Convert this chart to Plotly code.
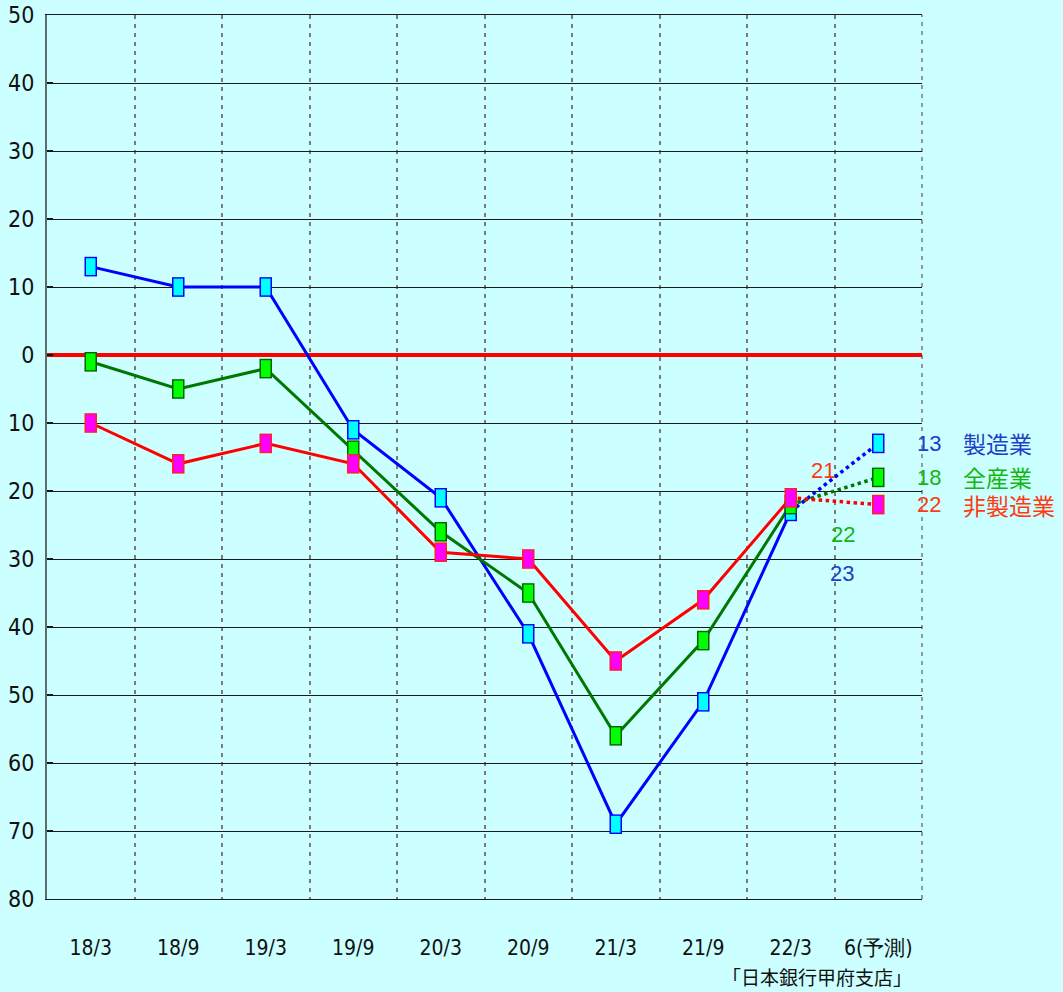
import plotly.graph_objects as go

categories = ["18/3", "18/9", "19/3", "19/9", "20/3", "20/9", "21/3", "21/9", "22/3", "6(予測)"]
manufacturing = [13, 10, 10, -11, -21, -41, -69, -51, -23, -13]
all_industries = [-1, -5, -2, -14, -26, -35, -56, -42, -22, -18]
non_manufacturing = [-10, -16, -13, -16, -29, -30, -45, -36, -21, -22]
y_tick_values = [50, 40, 30, 20, 10, 0, -10, -20, -30, -40, -50, -60, -70, -80]
y_tick_text = ["50", "40", "30", "20", "10", "0", "10", "20", "30", "40", "50", "60", "70", "80"]
series_names = ["製造業", "全産業", "非製造業"]
source_text = "「日本銀行甲府支店」"

xs = list(range(len(categories)))
NARROW = "DejaVu Sans Condensed, Liberation Sans Narrow, Arial Narrow, sans-serif"
JP = "Noto Sans CJK JP, sans-serif"
NUM = "Liberation Sans, Arial, sans-serif"

series = [
    (manufacturing, "#0000FF", "#00FFFF", "#0000FF", "#1E40C8"),
    (all_industries, "#007800", "#00FF00", "#006400", "#10B810"),
    (non_manufacturing, "#FF0000", "#FF00FF", "#FF2020", "#FF3A10"),
]

fig = go.Figure()

for (vals, lc, fc, bc, tc), name in zip(series, series_names):
    fig.add_trace(go.Scatter(x=xs[:-1], y=vals[:-1], mode="lines",
                             line=dict(color=lc, width=3), showlegend=False, hoverinfo="skip"))
    fig.add_trace(go.Scatter(x=xs[-2:], y=vals[-2:], mode="lines",
                             line=dict(color=lc, width=3.5, dash="dot"), showlegend=False, hoverinfo="skip"))

for (vals, lc, fc, bc, tc), name in zip(series, series_names):
    fig.add_trace(go.Scatter(x=xs, y=vals, mode="markers",
                             marker=dict(symbol="line-ns", size=14, color=bc,
                                         line=dict(color=bc, width=12.5)),
                             showlegend=False, hoverinfo="skip"))
    fig.add_trace(go.Scatter(x=xs, y=vals, mode="markers",
                             marker=dict(symbol="line-ns", size=12, color=fc,
                                         line=dict(color=fc, width=9.5)),
                             name=name, showlegend=False))

ann = []
last = len(categories) - 2
shifts = [(51, -62), (52, -30), (32, 27)]
for (vals, lc, fc, bc, tc), (dx, dy) in zip(series, shifts):
    ann.append(dict(x=xs[last], y=vals[last], xref="x", yref="y", text=str(-vals[last]),
                    showarrow=False, xshift=dx, yshift=dy,
                    font=dict(family=NUM, size=22, color=tc)))
for (vals, lc, fc, bc, tc), name in zip(series, series_names):
    ann.append(dict(x=xs[-1], y=vals[-1], xref="x", yref="y", text=str(-vals[-1]),
                    showarrow=False, xshift=51, yshift=0,
                    font=dict(family=NUM, size=22, color=tc)))
    ann.append(dict(x=xs[-1], y=vals[-1], xref="x", yref="y", text=name,
                    showarrow=False, xshift=83, xanchor="left", yshift=0,
                    font=dict(family=JP, size=23, color=tc)))
ann.append(dict(x=0.88, y=-0.088, xref="paper", yref="paper", text=source_text,
                showarrow=False, xanchor="center", yanchor="middle",
                font=dict(family=JP, size=19, color="#111111")))

fig.update_layout(
    width=1063, height=992,
    margin=dict(l=47, r=141, t=15, b=93),
    paper_bgcolor="#CCFFFF", plot_bgcolor="#CCFFFF",
    showlegend=False,
    annotations=ann,
    shapes=[dict(type="line", xref="paper", yref="paper", x0=1, x1=1, y0=0, y1=1,
                 line=dict(color="#7A7A7A", width=1.5, dash="4px,5px"), layer="below")],
    xaxis=dict(
        range=[-0.5, len(categories) - 0.5],
        tickmode="array", tickvals=xs, ticktext=categories,
        showgrid=False, zeroline=False, ticks="",
        showline=True, mirror=True, linecolor="#1A1A1A", linewidth=1,
        tickfont=dict(family=NARROW, size=21, color="#111111"),
        ticklabelstandoff=30, automargin=False,
        minor=dict(tickmode="array", tickvals=[x + 0.5 for x in xs[:-1]],
                   showgrid=True, gridcolor="#7A7A7A", gridwidth=1.5, griddash="4px,5px", ticks=""),
    ),
    yaxis=dict(
        range=[-80, 50],
        tickmode="array", tickvals=y_tick_values, ticktext=y_tick_text,
        showgrid=True, gridcolor="#1A1A1A", gridwidth=1,
        zeroline=True, zerolinecolor="#FF0000", zerolinewidth=4,
        showline=True, linecolor="#5A6E6E", linewidth=2,
        ticks="inside", ticklen=6, tickwidth=2, tickcolor="#111111",
        tickfont=dict(family=NARROW, size=23, color="#111111"),
        ticklabelstandoff=6, automargin=False,
    ),
)

fig.write_html("out.html", config={"displayModeBar": False},
               post_script="document.body.style.margin='0';document.body.style.padding='0';")
